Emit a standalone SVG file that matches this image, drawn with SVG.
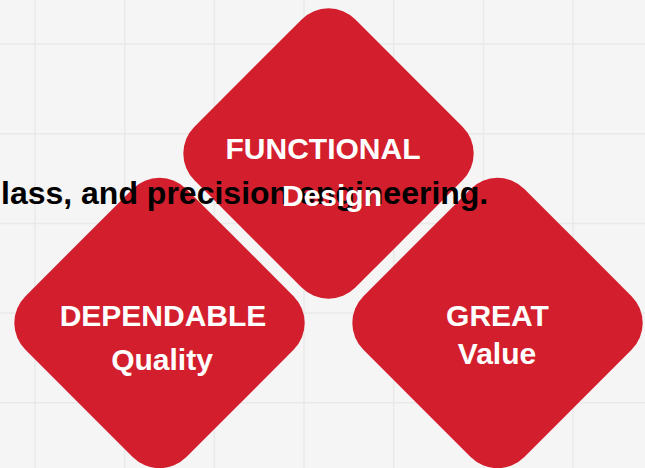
<svg xmlns="http://www.w3.org/2000/svg" width="645" height="468" viewBox="0 0 645 468">
<style>
.bg{fill:#f5f5f5}
.grid{stroke:#e9e9e9;stroke-width:1.5;fill:none}
.dia{fill:#d31f2d}
.lbl{font-family:"Liberation Sans",Arial,sans-serif;font-weight:bold;font-size:30px;fill:#ffffff;text-anchor:middle}
.cap{font-family:"Liberation Sans",Arial,sans-serif;font-weight:bold;font-size:32px;fill:#000000}
</style>
<rect class="bg" x="0" y="0" width="645" height="468"/>
<g class="grid">
<path d="M35 0V468M124.7 0V468M214.4 0V468M304 0V468M393.8 0V468M483.5 0V468M573 0V468M0 44H645M0 133.7H645M0 223.4H645M0 313H645M0 402.8H645"/>
</g>
<g id="connectors"></g>
<g id="node-functional">
<rect class="dia" x="-113.8" y="-113.8" width="227.6" height="227.6" rx="38" transform="translate(328.5 153.5) rotate(45)"/>
</g>
<g id="node-dependable">
<rect class="dia" x="-113.8" y="-113.8" width="227.6" height="227.6" rx="38" transform="translate(159.5 323) rotate(45)"/>
</g>
<g id="node-great">
<rect class="dia" x="-113.8" y="-113.8" width="227.6" height="227.6" rx="38" transform="translate(497.5 323) rotate(45)"/>
</g>
<text class="cap" x="1" y="204">lass, and precision engineering.</text>
<g id="labels">
<text class="lbl" x="323" y="159">FUNCTIONAL</text>
<text class="lbl" x="332" y="206">Design</text>
<text class="lbl" x="163" y="326">DEPENDABLE</text>
<text class="lbl" x="162" y="370">Quality</text>
<text class="lbl" x="497.5" y="326">GREAT</text>
<text class="lbl" x="497" y="364">Value</text>
</g>
</svg>
